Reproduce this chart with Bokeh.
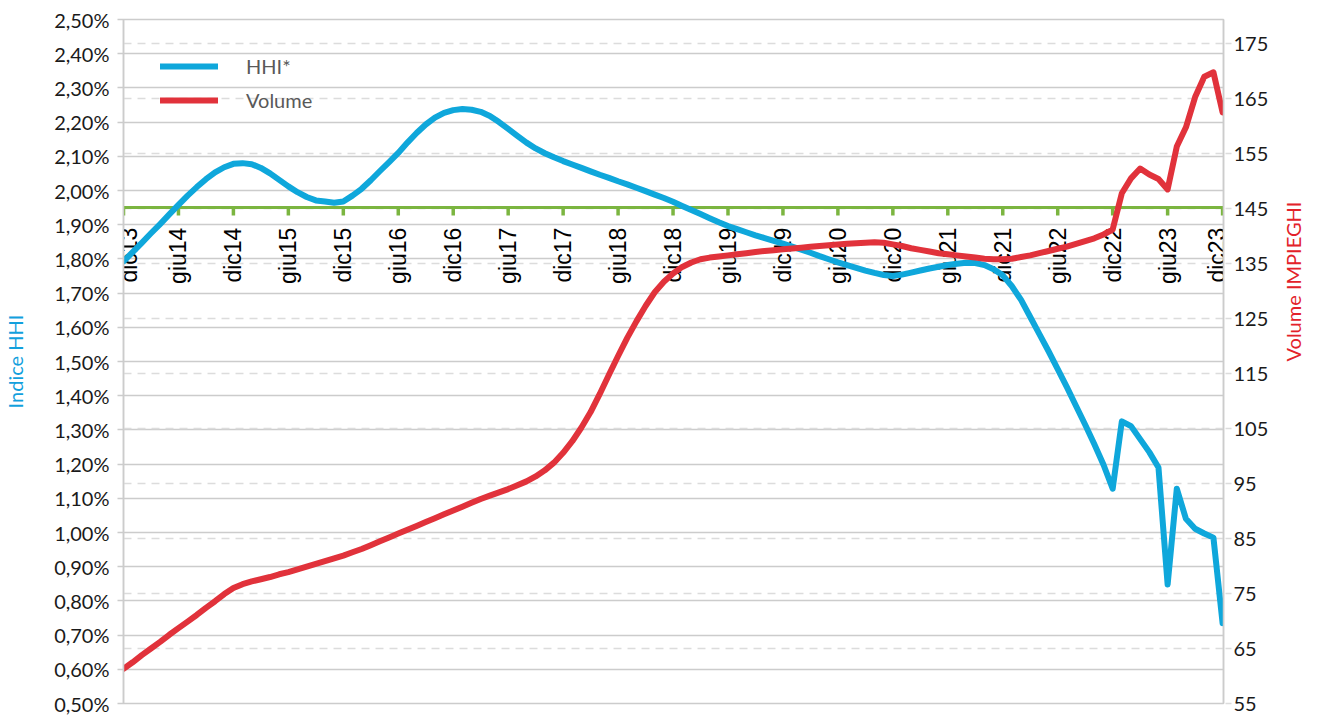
import math
from bokeh.plotting import figure
from bokeh.models import (Range1d, LinearAxis, FixedTicker, Grid, Span,
                          LabelSet, Legend, LegendItem, ColumnDataSource)
from bokeh.core.properties import value
from bokeh.embed import file_html
from bokeh.resources import INLINE

# ---------------- data ----------------
MONTH_INDEX = list(range(121))  # dic13 .. dic23, monthly

HHI = [
    1.793, 1.820, 1.847, 1.875, 1.902, 1.930, 1.958, 1.985, 2.010, 2.033,
    2.053, 2.068, 2.078, 2.080, 2.077, 2.066, 2.050, 2.031, 2.012, 1.995,
    1.981, 1.971, 1.968, 1.964, 1.968, 1.985, 2.005, 2.030, 2.057, 2.083,
    2.110, 2.140, 2.168, 2.193, 2.213, 2.227, 2.235, 2.238, 2.236, 2.230,
    2.218, 2.200, 2.180, 2.160, 2.140, 2.123, 2.109, 2.097, 2.086, 2.076,
    2.066, 2.056, 2.046, 2.037, 2.027, 2.018, 2.008, 1.998, 1.988, 1.978,
    1.967, 1.955, 1.943, 1.931, 1.919, 1.907, 1.896, 1.887, 1.878, 1.869,
    1.861, 1.853, 1.845, 1.836, 1.827, 1.818, 1.808, 1.799, 1.790, 1.782,
    1.774, 1.766, 1.759, 1.753, 1.750, 1.754, 1.760, 1.766, 1.772, 1.777,
    1.782, 1.786, 1.789, 1.788, 1.782, 1.770, 1.752, 1.720, 1.680, 1.630,
    1.580, 1.530, 1.478, 1.425, 1.370, 1.315, 1.258, 1.198, 1.128, 1.325,
    1.311, 1.273, 1.235, 1.190, 0.848, 1.128, 1.040, 1.011, 0.997, 0.985,
    0.735,
]

VOLUME = [
    61.3, 62.5, 63.8, 65.0, 66.2, 67.5, 68.7, 69.9, 71.1, 72.4,
    73.6, 74.9, 76.0, 76.7, 77.2, 77.6, 78.0, 78.5, 78.9, 79.4,
    79.9, 80.4, 80.9, 81.4, 81.9, 82.5, 83.1, 83.8, 84.5, 85.2,
    85.9, 86.6, 87.3, 88.0, 88.7, 89.4, 90.1, 90.8, 91.5, 92.2,
    92.8, 93.4, 94.0, 94.7, 95.4, 96.3, 97.4, 98.8, 100.6, 102.7,
    105.2, 108.0, 111.3, 114.8, 118.2, 121.5, 124.5, 127.3, 129.8, 131.7,
    133.2, 134.4, 135.2, 135.8, 136.1, 136.3, 136.5, 136.7, 136.9, 137.1,
    137.3, 137.45, 137.6, 137.75, 137.9, 138.05, 138.2, 138.35, 138.5, 138.6,
    138.7, 138.8, 138.9, 138.8, 138.5, 138.2, 137.8, 137.5, 137.2, 136.9,
    136.7, 136.5, 136.3, 136.1, 135.9, 135.8, 135.8, 135.9, 136.2, 136.5,
    136.9, 137.3, 137.7, 138.1, 138.6, 139.1, 139.6, 140.3, 141.2, 147.8,
    150.5, 152.3, 151.2, 150.4, 148.5, 156.3, 159.8, 165.3, 169.0, 169.8,
    162.5,
]

X_TICKS = [0, 6, 12, 18, 24, 30, 36, 42, 48, 54, 60, 66, 72, 78, 84, 90,
           96, 102, 108, 114, 120]
X_LABELS = ["dic13", "giu14", "dic14", "giu15", "dic15", "giu16", "dic16",
            "giu17", "dic17", "giu18", "dic18", "giu19", "dic19", "giu20",
            "dic20", "giu21", "dic21", "giu22", "dic22", "giu23", "dic23"]

LEFT_TICKS = [0.5, 0.6, 0.7, 0.8, 0.9, 1.0, 1.1, 1.2, 1.3, 1.4, 1.5, 1.6,
              1.7, 1.8, 1.9, 2.0, 2.1, 2.2, 2.3, 2.4, 2.5]
LEFT_LABELS = ["0,50%", "0,60%", "0,70%", "0,80%", "0,90%", "1,00%", "1,10%",
               "1,20%", "1,30%", "1,40%", "1,50%", "1,60%", "1,70%", "1,80%",
               "1,90%", "2,00%", "2,10%", "2,20%", "2,30%", "2,40%", "2,50%"]
RIGHT_TICKS = [55, 65, 75, 85, 95, 105, 115, 125, 135, 145, 155, 165, 175]

AXIS_CROSS = 1.95          # horizontal axis crosses the left axis here
LEFT_RANGE = (0.5, 2.5)
RIGHT_RANGE = (55, 179.4)
X_RANGE = (0, 120.1)

# ---------------- style ----------------
BLUE = "#0FA7DB"
RED = "#E1323B"
GREEN = "#7BB540"
GRID_SOLID = "#CCCCCC"
GRID_DASH = "#DCDCDC"
TITLE_BLUE = "#12A0DD"
TITLE_RED = "#E3222A"
TXT = "#1A1A1A"
YFONT = "Lato"

FIG_W, FIG_H = 1320, 715
B_LEFT, B_RIGHT, B_TOP, B_BOTTOM = 121, 94, 19, 12
FRAME_H = FIG_H - B_TOP - B_BOTTOM
TICK_LEN = 8 * (LEFT_RANGE[1] - LEFT_RANGE[0]) / FRAME_H
EDGE_NUDGE = [6] + [0] * (len(X_TICKS) - 2) + [-6]   # keep edge labels inside

p = figure(width=FIG_W, height=FIG_H, output_backend="svg", toolbar_location=None,
           title=None, x_range=Range1d(*X_RANGE), y_range=Range1d(*LEFT_RANGE),
           x_axis_location=None,
           min_border_left=B_LEFT, min_border_right=B_RIGHT,
           min_border_top=B_TOP, min_border_bottom=B_BOTTOM)
p.background_fill_color = "white"
p.border_fill_color = "white"
p.outline_line_color = GRID_SOLID
p.outline_line_width = 1.5
p.xgrid.visible = False

# left axis
ly = p.yaxis[0]
ly.ticker = FixedTicker(ticks=LEFT_TICKS)
ly.major_label_overrides = {t: s for t, s in zip(LEFT_TICKS, LEFT_LABELS)}
ly.major_label_text_font = YFONT
ly.major_label_text_font_size = "20px"
ly.major_label_text_color = TXT
ly.major_tick_out = 6
ly.major_tick_in = 0
ly.major_tick_line_color = GRID_SOLID
ly.major_tick_line_width = 1.5
ly.minor_tick_line_color = None
ly.axis_line_color = GRID_SOLID
ly.axis_line_width = 1.5
ly.major_label_standoff = 8
ly.axis_label = "Indice HHI"
ly.axis_label_text_font = YFONT
ly.axis_label_text_font_size = "20px"
ly.axis_label_text_font_style = "normal"
ly.axis_label_text_color = TITLE_BLUE
ly.axis_label_standoff = 24

p.ygrid.ticker = FixedTicker(ticks=LEFT_TICKS)
p.ygrid.grid_line_color = GRID_SOLID
p.ygrid.grid_line_width = 1.5

# right axis
p.extra_y_ranges = {"vol": Range1d(*RIGHT_RANGE)}
ry = LinearAxis(y_range_name="vol", ticker=FixedTicker(ticks=RIGHT_TICKS))
ry.major_label_text_font = YFONT
ry.major_label_text_font_size = "20px"
ry.major_label_text_color = TXT
ry.major_tick_out = 8
ry.major_tick_in = 0
ry.major_tick_line_color = GRID_DASH
ry.major_tick_line_dash = "6 4"
ry.major_tick_line_width = 1.5
ry.minor_tick_line_color = None
ry.axis_line_color = GRID_SOLID
ry.axis_line_width = 1.5
ry.major_label_standoff = 2
ry.axis_label = "Volume IMPIEGHI"
ry.axis_label_text_font = YFONT
ry.axis_label_text_font_size = "20px"
ry.axis_label_text_font_style = "normal"
ry.axis_label_text_color = TITLE_RED
ry.axis_label_standoff = 22
if hasattr(ry, "axis_label_orientation"):
    ry.axis_label_orientation = math.pi / 2
p.add_layout(ry, "right")

rgrid = Grid(dimension=1, y_range_name="vol", ticker=FixedTicker(ticks=RIGHT_TICKS),
             grid_line_color=GRID_DASH, grid_line_dash="8 6", grid_line_width=1.5)
p.add_layout(rgrid)

# horizontal category axis crossing at 1.95%
p.add_layout(Span(location=AXIS_CROSS, dimension="width", line_color=GREEN,
                  line_width=3, level="underlay"))
tick_src = ColumnDataSource(dict(x=X_TICKS, y0=[AXIS_CROSS] * len(X_TICKS),
                                 y1=[AXIS_CROSS - TICK_LEN] * len(X_TICKS),
                                 lab=X_LABELS, nudge=EDGE_NUDGE))
p.segment(x0="x", y0="y0", x1="x", y1="y1", source=tick_src,
          line_color=GREEN, line_width=3.5)
labels = LabelSet(x="x", y="y0", text="lab", source=tick_src, angle=math.pi / 2,
                  x_offset="nudge", y_offset=-20,
                  text_align="right", text_baseline="middle",
                  text_font=value("Liberation Sans"), text_font_size="23px",
                  text_color="black", level="underlay")
p.add_layout(labels)

# series
src = ColumnDataSource(dict(x=MONTH_INDEX, hhi=HHI, vol=VOLUME))
r_hhi = p.line("x", "hhi", source=src, line_color=BLUE, line_width=6,
               line_join="round", line_cap="round")
r_vol = p.line("x", "vol", source=src, y_range_name="vol", line_color=RED,
               line_width=6, line_join="round", line_cap="round")

legend = Legend(items=[LegendItem(label="HHI*", renderers=[r_hhi]),
                       LegendItem(label="Volume", renderers=[r_vol])],
                location=(37, 591), orientation="vertical", padding=0, margin=0,
                spacing=10, glyph_width=58, glyph_height=20, label_height=20,
                label_standoff=28, background_fill_alpha=0, border_line_alpha=0,
                label_text_font=YFONT, label_text_font_size="20px",
                label_text_color="#595959")
p.add_layout(legend)

open("out.html", "w").write(file_html(p, INLINE))
